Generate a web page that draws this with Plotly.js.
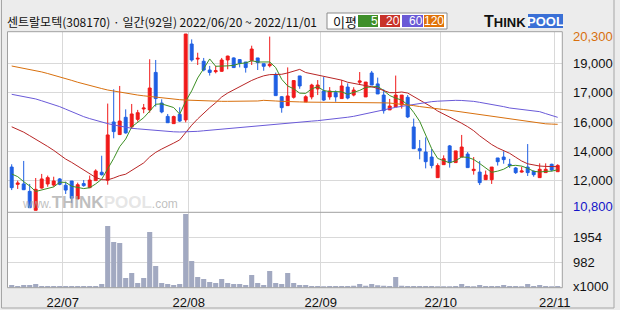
<!DOCTYPE html>
<html><head><meta charset="utf-8">
<script src="https://cdn.plot.ly/plotly-3.0.1.min.js"></script>
<style>html,body{margin:0;padding:0;background:#ececec;}#chart{width:620px;height:310px;}</style>
</head><body><div id="chart"></div>
<script>
// ---- data ----
const dates = [
 '2022/06/20','2022/06/21','2022/06/22','2022/06/23','2022/06/24','2022/06/27','2022/06/28','2022/06/29','2022/06/30',
 '2022/07/01','2022/07/04','2022/07/05','2022/07/06','2022/07/07','2022/07/08','2022/07/11','2022/07/12','2022/07/13','2022/07/14','2022/07/15',
 '2022/07/18','2022/07/19','2022/07/20','2022/07/21','2022/07/22','2022/07/25','2022/07/26','2022/07/27','2022/07/28','2022/07/29',
 '2022/08/01','2022/08/02','2022/08/03','2022/08/04','2022/08/05','2022/08/08','2022/08/09','2022/08/10','2022/08/11','2022/08/12',
 '2022/08/16','2022/08/17','2022/08/18','2022/08/19','2022/08/22','2022/08/23','2022/08/24','2022/08/25','2022/08/26','2022/08/29','2022/08/30','2022/08/31',
 '2022/09/01','2022/09/02','2022/09/05','2022/09/06','2022/09/07','2022/09/08','2022/09/13','2022/09/14','2022/09/15','2022/09/16',
 '2022/09/19','2022/09/20','2022/09/21','2022/09/22','2022/09/23','2022/09/26','2022/09/27','2022/09/28','2022/09/29','2022/09/30',
 '2022/10/04','2022/10/05','2022/10/06','2022/10/07','2022/10/11','2022/10/12','2022/10/13','2022/10/14','2022/10/17','2022/10/18',
 '2022/10/19','2022/10/20','2022/10/21','2022/10/24','2022/10/25','2022/10/26','2022/10/27','2022/10/28','2022/10/31','2022/11/01'];

const open = [13130,12200,12220,11820,10800,12000,12220,12160,12490,12150,
 12380,11410,12240,12020,12400,12850,12420,15560,14880,15810,
 15290,15700,16260,16210,18230,16580,15860,15470,15970,15670,
 19760,18950,18830,18360,18270,18290,18900,19010,18920,18790,
 18860,19010,18700,18590,18110,16920,16440,16890,18040,16640,
 16910,17340,17230,16910,17140,16820,17440,17010,17700,16910,
 18200,17610,17010,16210,16370,16470,16890,15290,14120,13940,
 13670,12560,13260,14270,13370,13670,13830,12940,12860,12450,
 12450,13620,13670,13280,13080,12860,13130,12900,12560,12830,
 13280,12880];
const high = [13280,12400,13460,12220,12540,12760,12670,12610,12540,12340,
 12380,12290,12430,12670,13010,13740,16550,17320,17500,16240,
 16530,16210,16530,18940,18900,16780,15990,15900,16350,20300,
 20010,19290,19010,18580,18580,19010,19130,19040,18950,18790,
 19670,19010,18700,20160,18220,16960,18500,17820,18040,17000,
 17620,17820,17980,17440,17260,17820,17640,17430,18250,17710,
 18310,17950,17320,16800,18060,17010,17010,15740,14590,14730,
 14100,13330,13760,14320,14000,14860,13940,13670,13460,12940,
 13130,13620,13980,13570,13130,13150,14370,12950,13330,13330,
 13310,13280];
const low = [11890,11950,11890,10940,10800,11970,12070,12070,12150,11680,
 11190,11410,12070,12020,12400,12670,12180,14680,14860,14930,
 15180,15580,16030,16060,16390,16030,15520,15470,15560,15540,
 18810,18630,18290,18060,18180,18270,18400,18470,18500,18220,
 18630,18360,18320,18500,16980,16060,16440,16820,17350,16640,
 16780,17010,16690,16760,16650,16820,16780,16940,17550,16910,
 17550,17070,16010,16210,16370,16280,15770,14120,13550,13060,
 13060,12560,13260,13100,13370,13670,13100,12720,12160,12450,
 12220,13210,13310,13080,12760,12830,12650,12610,12560,12830,
 12900,12880];
const close = [12020,12270,11910,10940,11930,12490,12560,12380,12200,11890,
 11450,12180,12130,12430,12920,12720,14860,15040,15610,14970,
 15990,16060,16310,17390,16820,16100,15520,15850,15610,20300,
 18900,18990,18360,18230,18320,18900,19110,18490,18720,18490,
 19490,18760,18560,18670,16980,16330,16960,17790,17500,16920,
 17550,17550,16740,17230,16910,17500,16850,17280,17770,17710,
 17550,17070,16170,16420,17010,17010,15830,14120,14010,13420,
 13210,13210,13580,13370,14000,14210,13100,13010,12290,12700,
 13130,13420,13530,13210,12830,12920,12830,12720,13010,13010,
 12970,13220];
// volume, x1000 shares
const volume = [101,62,101,101,140,62,62,62,62,62,62,62,62,62,62,140,
 2395,1773,1734,373,568,179,373,2162,840,179,140,101,140,2862,1034,412,334,218,179,334,
 179,140,140,101,490,179,101,645,179,140,568,179,101,101,
 62,62,55,62,62,62,62,80,140,80,140,100,80,70,412,80,70,70,62,62,
 62,55,55,55,62,140,62,55,101,62,62,62,101,62,62,55,140,62,101,62,55,62];
// moving averages
const ma5 = [12757,12613,12344,12110,11814,11908,11966,12060,12312,12304,
 12096,12020,11970,12016,12222,12476,13012,13594,14230,14640,
 15294,15534,15788,16144,16514,16536,16428,16336,15980,16676,
 17236,17930,18432,18956,18560,18560,18584,18610,18708,18742,
 18860,18790,18804,18794,18492,17860,17500,17346,17112,17100,
 17344,17462,17252,17198,17196,17186,17046,17154,17262,17422,
 17432,17476,17254,16984,16844,16736,16488,16078,15596,14878,
 14118,13594,13486,13358,13474,13674,13652,13538,13322,13062,
 12846,12910,13014,13198,13224,13182,13064,12902,12862,12898,
 12908,12986];
const ma20 = [15300,15160,15010,14820,14640,14450,14240,14030,13800,13560,
 13380,13180,12990,12790,12570,12450,12440,12540,12667,12745,
 12944,13133,13353,13676,13920,14101,14249,14422,14593,15013,
 15386,15726,16038,16328,16598,16907,17119,17292,17447,17623,
 17798,17933,18046,18110,18118,18129,18201,18298,18393,18224,
 18156,18084,18003,17953,17883,17813,17700,17639,17592,17553,
 17456,17371,17252,17139,17141,17175,17118,16935,16760,16585,
 16368,16151,15993,15800,15655,15490,15303,15089,14815,14565,
 14344,14161,14029,13869,13660,13455,13305,13235,13185,13165,
 13153,13153];
const ma60 = [17050,16990,16930,16860,16800,16700,16600,16490,16385,16250,
 16110,15980,15846,15740,15640,15550,15470,15400,15330,15270,
 15220,15190,15160,15130,15110,15080,15050,15030,15020,15020,
 15040,15055,15085,15115,15145,15175,15205,15235,15270,15305,
 15343,15373,15403,15433,15457,15480,15504,15530,15558,15582,
 15606,15630,15660,15690,15720,15765,15815,15864,15935,16005,
 16079,16160,16241,16295,16349,16400,16456,16500,16546,16600,
 16654,16680,16705,16726,16726,16718,16708,16670,16618,16565,
 16510,16456,16385,16313,16275,16240,16205,16160,16115,16010,
 15900,15810];
const ma120 = [18575,18515,18460,18400,18342,18255,18170,18085,18001,17900,
 17800,17700,17606,17525,17445,17360,17282,17220,17160,17105,
 17049,17010,16970,16930,16887,16855,16820,16790,16761,16740,
 16726,16726,16690,16672,16672,16672,16672,16672,16672,16672,
 16672,16690,16726,16726,16690,16672,16672,16660,16640,16630,
 16630,16630,16625,16625,16620,16620,16615,16615,16610,16605,
 16600,16595,16590,16580,16555,16528,16490,16440,16390,16340,
 16295,16265,16230,16190,16145,16100,16050,16000,15950,15900,
 15845,15790,15760,15730,15690,15640,15580,15540,15500,15460,
 15445,15433];
const maPeriods = [5, 20, 60, 120];
const volTickVals = [982, 1954];
const volTickText = ['982', '1954'];
const volUnitText = 'x1000';
const titleText = '센트랄모텍(308170) · 일간(92일) 2022/06/20 ~ 2022/11/01';

// ---- layout helpers ----
const W = 620, H = 310;
const px = x => x / W, py = y => 1 - y / H;
const xi = dates.map((d, i) => i);
const FONT = 'Liberation Sans, Arial, sans-serif';
const KFONT = 'Noto Sans CJK KR, sans-serif';

const monthVals = [], monthText = [];
for (let i = 1; i < dates.length; i++) {
  if (dates[i].slice(5, 7) !== dates[i - 1].slice(5, 7)) {
    monthVals.push(i - 0.5);
    monthText.push(dates[i].slice(2, 4) + '/' + dates[i].slice(5, 7));
  }
}
const maxHigh = Math.max(...high), minLow = Math.min(...low);
const fmt = v => v.toLocaleString('en-US');
const gridVals = [1, 2, 3, 4, 5].map(k => minLow + k * (maxHigh - minLow) / 6);
const gridText = gridVals.map(v => fmt(Math.round(v / 1000) * 1000));

// pixel geometry of the panels
const L = 7.5, R = 562.3, T = 31.7, MID = 212.3, B = 287.7;
const perPx = (maxHigh - minLow) / (210.3 - 34);
const yRange = [minLow - (MID - 210.3) * perPx, maxHigh + (34 - T) * perPx];
const volPerPx = (volTickVals[1] - volTickVals[0]) / 25;
const volRange = [0, (B - MID) * volPerPx];

const maColors = ['#3d8f24', '#b82525', '#6a5ad8', '#d8700e'];
const maData = [ma5, ma20, ma60, ma120];

const traces = [];
traces.push({type: 'bar', x: xi, y: volume, xaxis: 'x2', yaxis: 'y2',
  marker: {color: '#a2a9c1', line: {width: 0}}, hoverinfo: 'skip'});
maData.forEach((m, k) => traces.push({type: 'scatter', mode: 'lines', x: xi, y: m,
  xaxis: 'x', yaxis: 'y', line: {color: maColors[k], width: 1}, hoverinfo: 'skip'}));
traces.push({type: 'candlestick', x: xi, open: open, high: high, low: low, close: close,
  xaxis: 'x', yaxis: 'y', whiskerwidth: 0, hoverinfo: 'skip',
  increasing: {line: {color: '#f01a1a', width: 1}, fillcolor: '#f01a1a'},
  decreasing: {line: {color: '#1f5fe3', width: 1}, fillcolor: '#1f5fe3'}});

const shapes = [];
const line = (x0, y0, x1, y1, c) => shapes.push({type: 'line', xref: 'paper', yref: 'paper',
  x0: px(x0), y0: py(y0), x1: px(x1), y1: py(y1), line: {color: c, width: 1}});
const rect = (x0, y0, x1, y1, fill, c) => shapes.push({type: 'rect', xref: 'paper', yref: 'paper',
  x0: px(x0), y0: py(y0), x1: px(x1), y1: py(y1), fillcolor: fill, line: {color: c || fill, width: c ? 1 : 0}});
// outer frame
line(1.5, 0, 1.5, 308, '#a6a6a6'); line(1.5, 308, 614, 308, '#a6a6a6'); line(614, 0, 614, 308, '#a6a6a6');
// plot frame
rect(L, T, R, B, 'rgba(0,0,0,0)', '#a0a0a0');
line(L, MID, R, MID, '#a0a0a0');
// legend box
rect(327, 13, 447, 29, '#ffffff', '#8c8c8c');
const legBoxes = [[358, 378], [380, 400], [402, 423], [424, 444]];
const legFill = ['#3f8f2a', '#c8322a', '#6a5ad6', '#e07208'];
legBoxes.forEach((b, k) => rect(b[0], 15, b[1], 27, legFill[k]));
// logo
rect(528, 14, 563, 28, '#3a70d6');

const ann = [];
const txt = (t, x, y, o) => ann.push(Object.assign({text: t, xref: 'paper', yref: 'paper',
  x: px(x), y: py(y), showarrow: false, xanchor: 'left', yanchor: 'middle',
  font: {family: FONT, size: 12, color: '#000'}}, o || {}));
txt(titleText, 5, 22, {font: {family: KFONT, size: 12, color: '#111'}});
txt('이평', 331, 21.5, {font: {family: KFONT, size: 13, color: '#111'}});
maPeriods.forEach((p, k) => txt(String(p), legBoxes[k][1] + 1.5, 21.5,
  {xanchor: 'right', font: {family: FONT, size: 12, color: '#fff'}}));
txt('<span style="font-size:16px">T</span>HINK', 528, 21.5, {xanchor: 'right',
  font: {family: 'Liberation Sans, Arial', size: 13, color: '#111', weight: 'bold'}});
txt('POOL', 545.5, 21.5, {xanchor: 'center', font: {family: 'Liberation Sans, Arial', size: 13, color: '#fff', weight: 'bold'}});
// watermark
txt('www.<span style="font-size:17px"><b>THINK</b></span><span style="font-size:17px;color:rgba(205,205,205,0.7)"><b>POOL</b></span>.com',
  20, 203, {font: {family: 'Liberation Sans, Arial', size: 12, color: 'rgba(170,170,170,0.75)'}});
// price labels on the right
gridVals.forEach((v, k) => ann.push({text: gridText[k], xref: 'paper', yref: 'y', x: px(571), y: v,
  showarrow: false, xanchor: 'left', yanchor: 'middle', font: {family: FONT, size: 13, color: '#111'}}));
ann.push({text: fmt(maxHigh), xref: 'paper', yref: 'y', x: px(571), y: maxHigh, yshift: -2.5,
  showarrow: false, xanchor: 'left', yanchor: 'middle', font: {family: FONT, size: 13, color: '#d8700e'}});
ann.push({text: fmt(minLow), xref: 'paper', yref: 'y', x: px(571), y: minLow, yshift: 3.6,
  showarrow: false, xanchor: 'left', yanchor: 'middle', font: {family: FONT, size: 13, color: '#1414c8'}});
volTickVals.forEach((v, k) => ann.push({text: volTickText[k], xref: 'paper', yref: 'y2', x: px(571), y: v,
  showarrow: false, xanchor: 'left', yanchor: 'middle', font: {family: FONT, size: 13, color: '#111'}}));
ann.push({text: volUnitText, xref: 'paper', yref: 'y2', x: px(571), y: 0, yshift: 1,
  showarrow: false, xanchor: 'left', yanchor: 'middle', font: {family: FONT, size: 13, color: '#111'}});

const xr = [-0.7, 91.77];
const layout = {
  width: W, height: H, margin: {l: 0, r: 0, t: 0, b: 0, pad: 0},
  paper_bgcolor: '#ececec', plot_bgcolor: '#ffffff', showlegend: false,
  bargap: 0.15, boxgap: 0.3, dragmode: false,
  xaxis: {domain: [px(L), px(R)], range: xr, anchor: 'y', tickvals: monthVals, ticktext: monthText,
    showticklabels: false, showgrid: true, gridcolor: '#d9d9d9', gridwidth: 1, zeroline: false,
    showline: false, ticks: '', rangeslider: {visible: false}, fixedrange: true},
  yaxis: {domain: [py(MID), py(T)], range: yRange, anchor: 'x', tickvals: gridVals, showticklabels: false,
    showgrid: true, gridcolor: '#d9d9d9', zeroline: false, showline: false, ticks: '', fixedrange: true},
  xaxis2: {domain: [px(L), px(R)], range: xr, anchor: 'y2', tickvals: monthVals, ticktext: monthText,
    showgrid: true, gridcolor: '#d9d9d9', zeroline: false, showline: false, ticks: '',
    tickfont: {family: FONT, size: 13, color: '#111'}, ticklabelstandoff: 5, fixedrange: true},
  yaxis2: {domain: [py(B), py(MID)], range: volRange, anchor: 'x2', tickvals: volTickVals, showticklabels: false,
    showgrid: true, gridcolor: '#d9d9d9', zeroline: false, showline: false, ticks: '', fixedrange: true},
  shapes: shapes, annotations: ann
};
Plotly.newPlot('chart', traces, layout, {staticPlot: true, displayModeBar: false});
</script></body></html>
